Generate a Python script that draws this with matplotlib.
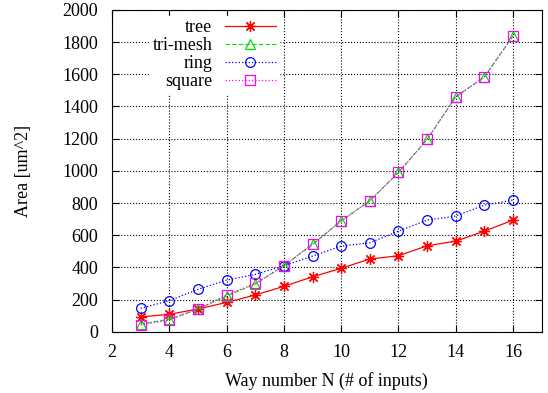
import numpy as np
import matplotlib
matplotlib.use('Agg')
import matplotlib.pyplot as plt

plt.rcParams['font.family'] = ['Liberation Serif', 'DejaVu Serif']

N = [3, 4, 5, 6, 7, 8, 9, 10, 11, 12, 13, 14, 15, 16]

tree = [92, 108, 141, 182, 228, 282, 341, 394, 452, 472, 534, 563, 625, 694]
tri_mesh = [48, 77, 141, 222, 296, 410, 543, 689, 814, 990, 1195, 1460, 1584, 1839]
ring = [145, 193, 263, 321, 356, 410, 470, 532, 553, 625, 694, 719, 787, 818]
square = [42, 73, 141, 228, 300, 410, 543, 689, 814, 990, 1195, 1460, 1584, 1839]

x_ticks = [2, 4, 6, 8, 10, 12, 14, 16]
y_ticks = [0, 200, 400, 600, 800, 1000, 1200, 1400, 1600, 1800, 2000]

fig = plt.figure(figsize=(5.48, 3.93), dpi=100)
ax = fig.add_axes([0.2044, 0.156, 0.7841, 0.8186])

ax.plot(N, tree, linestyle='-', color='#ff0000', linewidth=0.9,
        marker=(8, 2, 0), markersize=8, markeredgewidth=0.9, label='tree')
ax.plot(N, tri_mesh, linestyle='--', color='#00dd00', linewidth=0.8, dashes=(4, 2),
        marker='^', markersize=6.5, markerfacecolor='none', markeredgewidth=0.9,
        label='tri-mesh')
ax.plot(N, ring, linestyle=':', color='#0000ff', linewidth=0.9,
        marker='o', markersize=7, markerfacecolor='none', markeredgewidth=0.9,
        label='ring')
ax.plot(N, square, linestyle=':', color='#ff00ff', linewidth=0.9,
        marker='s', markersize=7, markerfacecolor='none', markeredgewidth=0.9,
        label='square')

ax.set_xlim(2, 17)
ax.set_ylim(0, 2000)
ax.set_xticks(x_ticks)
ax.set_yticks(y_ticks)
ax.grid(True, linestyle=':', color='black', linewidth=0.8)
ax.set_axisbelow(True)
ax.tick_params(axis='both', labelsize=13, direction='in', length=5, top=True, right=True)
ax.tick_params(axis='y', pad=10)
ax.tick_params(axis='x', pad=9)
ax.set_xlabel('Way number N (# of inputs)', fontsize=13, labelpad=8)
ax.set_ylabel('Area [um^2]', fontsize=13, labelpad=22)

leg = ax.legend(loc='upper left', markerfirst=False, fontsize=13, frameon=True,
                fancybox=False, edgecolor='white', framealpha=1.0,
                handlelength=2.8, handletextpad=0.7, labelspacing=0.05, borderpad=0.2,
                bbox_to_anchor=(0.065, 1.01))
for t in leg.get_texts():
    t.set_ha('right')

fig.savefig('out.png', dpi=100)
